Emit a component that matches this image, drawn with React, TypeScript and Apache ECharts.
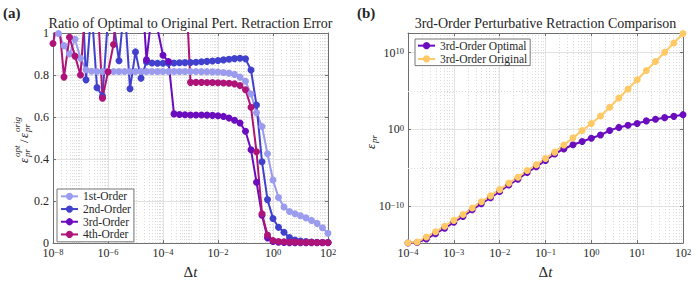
import React, { useEffect, useRef } from "react";
import * as echarts from "echarts";

const SERIF = "Times New Roman";
const TXT = "#262626";
const AXC = "#6e6e6e";
const GRIDC = "#e2e2e2";
const MINORC = "#d9d9d9";

const C1 = "#9c9cef";
const C2 = "#4141cd";
const C3 = "#6b0cbe";
const C4 = "#ae1378";
const CORIG = "#ffc966";

// ---------- panel (a): exponent of Δt and error ratios ----------
const dtExpA = [
  -8.0, -7.8, -7.6, -7.4, -7.2, -7.0, -6.8, -6.6, -6.4, -6.2,
  -6.0, -5.8, -5.6, -5.4, -5.2, -5.0, -4.8, -4.6, -4.4, -4.2,
  -4.0, -3.8, -3.6, -3.4, -3.2, -3.0, -2.8, -2.6, -2.4, -2.2,
  -2.0, -1.8, -1.6, -1.4, -1.2, -1.0, -0.8, -0.6, -0.4, -0.2,
  0.0, 0.2, 0.4, 0.6, 0.8, 1.0, 1.2, 1.4, 1.6, 1.8, 2.0,
];
const ratio1st = [
  1.08, 0.998, 0.94, 0.9, 0.97, 0.88, 0.825, 0.818, 0.817, 0.817,
  0.817, 0.817, 0.817, 0.817, 0.817, 0.817, 0.817, 0.817, 0.817, 0.817,
  0.817, 0.817, 0.817, 0.817, 0.817, 0.817, 0.817, 0.816, 0.816, 0.815,
  0.814, 0.812, 0.809, 0.803, 0.79, 0.77, 0.71, 0.62, 0.555, 0.425,
  0.3, 0.217, 0.172, 0.15, 0.14, 0.13, 0.12, 0.108, 0.094, 0.073, 0.047,
];
const ratio2nd = [
  1.3, 1.35, 1.3, 1.25, 1.3, 1.4, 0.777, 1.12, 0.74, 0.7,
  1.07, 1.05, 0.868, 1.14, 0.735, 0.91, 0.785, 0.862, 0.857, 0.856,
  0.856, 0.856, 0.857, 0.858, 0.859, 0.86, 0.861, 0.863, 0.865, 0.867,
  0.869, 0.872, 0.875, 0.878, 0.88, 0.877, 0.824, 0.657, 0.387, 0.207,
  0.117, 0.075, 0.052, 0.026, 0.015, 0.01, 0.007, 0.005, 0.004, 0.003, 0.003,
];
const ratio3rd = [
  1.35, 1.4, 1.3, 1.45, 1.3, 1.35, 1.4, 1.3, 1.35, 1.4,
  1.3, 1.35, 1.3, 1.4, 1.3, 1.35, 1.28, 0.872, 1.1, 1.02,
  0.894, 0.864, 0.615, 0.612, 0.611, 0.61, 0.61, 0.61, 0.609, 0.608,
  0.606, 0.603, 0.595, 0.585, 0.572, 0.532, 0.444, 0.29, 0.133, 0.025,
  0.008, 0.004, 0.003, 0.002, 0.002, 0.002, 0.002, 0.002, 0.002, 0.002, 0.002,
];
const ratio4th = [
  0.95, 1.08, 0.79, 0.98, 0.89, 0.8, 1.17, 1.3, 1.2, 0.69,
  0.815, 0.945, 1.3, 1.35, 1.3, 1.4, 1.3, 1.35, 1.3, 1.4,
  1.3, 1.35, 1.3, 1.4, 1.3, 0.765, 0.765, 0.765, 0.764, 0.764,
  0.763, 0.762, 0.761, 0.758, 0.75, 0.73, 0.647, 0.435, 0.14, 0.038,
  0.012, 0.008, 0.006, 0.005, 0.005, 0.004, 0.004, 0.004, 0.003, 0.003, 0.003,
];

// ---------- panel (b): exponent of Δt and exponent of ε_pr ----------
const dtExpB = [
  -4.0, -3.8, -3.6, -3.4, -3.2, -3.0, -2.8, -2.6, -2.4, -2.2,
  -2.0, -1.8, -1.6, -1.4, -1.2, -1.0, -0.8, -0.6, -0.4, -0.2,
  0.0, 0.2, 0.4, 0.6, 0.8, 1.0, 1.2, 1.4, 1.6, 1.8, 2.0,
];
const errExpOptimal = [
  -14.78, -14.72, -14.27, -13.58, -12.85, -12.09, -11.32, -10.47, -9.66, -8.9,
  -8.09, -7.24, -6.47, -5.61, -4.85, -4.04, -3.2, -2.55, -2.0, -1.57,
  -1.15, -0.73, -0.15, 0.26, 0.55, 0.77, 1.11, 1.32, 1.53, 1.7, 1.92,
];
const errExpOriginal = [
  -14.76, -14.65, -14.01, -13.33, -12.6, -11.84, -11.07, -10.22, -9.41, -8.65,
  -7.84, -6.99, -6.22, -5.36, -4.6, -3.79, -2.96, -2.02, -1.1, -0.15,
  0.77, 1.75, 2.89, 4.09, 5.27, 6.46, 7.66, 8.85, 10.04, 11.24, 12.48,
];

// tick labels (exponents of 10)
const tickExpAX = [-8, -6, -4, -2, 0, 2];
const tickExpBX = [-4, -3, -2, -1, 0, 1, 2];
const tickExpBY = [-10, 0, 10];

const legendA = ["1st-Order", "2nd-Order", "3rd-Order", "4th-Order"];
const legendB = ["3rd-Order Optimal", "3rd-Order Original"];

// minor log grid positions
const minorDecades = (from: number, to: number, withOdd: boolean) => {
  const out: number[] = [];
  for (let n = from; n < to; n++) {
    if (withOdd && (n - from) % 2 === 1) out.push(n);
    for (let k = 2; k <= 9; k++) out.push(n + Math.log10(k));
  }
  return out;
};
const minorXA = minorDecades(-8, 2, true);
const minorXB = minorDecades(-4, 2, false);
const minorYB = [-5, 5];

const expFmt = (ticks: number[]) => (v: number) => {
  const r = Math.round(v * 1000) / 1000;
  if (!ticks.includes(r)) return "";
  const s = r < 0 ? "\u2212" + Math.abs(r) : String(r);
  return `{b|10}{e|${s}}`;
};
const expRich = {
  b: { fontFamily: SERIF, fontSize: 12, color: TXT, lineHeight: 12, verticalAlign: "bottom" },
  e: { fontFamily: SERIF, fontSize: 8.5, color: TXT, lineHeight: 6, verticalAlign: "top" },
};

function axisBase(grid: number, min: number, max: number, step: number | null, pos: string) {
  const a: any = {
    type: "value",
    gridIndex: grid,
    min,
    max,
    position: pos,
    axisLine: { show: true, onZero: false, lineStyle: { color: AXC, width: 1 } },
    axisTick: { show: true, inside: true, length: 3, lineStyle: { color: AXC, width: 1 } },
    splitLine: { show: false },
    axisLabel: { show: false },
  };
  if (step != null) a.interval = step;
  else a.splitNumber = 3;
  return a;
}

const nameDt = {
  name: "{d|\u0394}{t|t}",
  nameLocation: "middle",
  nameGap: 17,
  nameTextStyle: {
    rich: {
      d: { fontFamily: SERIF, fontSize: 15, color: TXT },
      t: { fontFamily: SERIF, fontSize: 15, fontStyle: "italic", color: TXT },
    },
  },
};

function lineSeries(name: string, color: string, xs: number[], ys: number[], axis: number) {
  return {
    name, type: "line", xAxisIndex: axis, yAxisIndex: axis,
    data: xs.map((x, i) => [x, ys[i]]),
    symbol: "circle", symbolSize: 7, showSymbol: true, color,
    lineStyle: { color, width: 2 }, itemStyle: { color },
    clip: true, z: 3, silent: true, emphasis: { disabled: true },
  };
}

function vMinor(axis: number, xs: number[], y0: number, y1: number) {
  return {
    type: "custom", xAxisIndex: axis, yAxisIndex: axis, silent: true, z: 1,
    data: xs.map((v) => [v, y0]),
    renderItem: (_p: any, api: any) => {
      const x = api.value(0);
      const a = api.coord([x, y0]);
      const b = api.coord([x, y1]);
      const px = Math.round(a[0]) + 0.5;
      return { type: "line", shape: { x1: px, y1: a[1], x2: px, y2: b[1] },
        style: { stroke: MINORC, lineWidth: 1, lineDash: [1, 2] } };
    },
  };
}

function hMinor(axis: number, ys: number[], x0: number, x1: number) {
  return {
    type: "custom", xAxisIndex: axis, yAxisIndex: axis, silent: true, z: 1,
    data: ys.map((v) => [x0, v]),
    renderItem: (_p: any, api: any) => {
      const y = api.value(1);
      const a = api.coord([x0, y]);
      const b = api.coord([x1, y]);
      const py = Math.round(a[1]) + 0.5;
      return { type: "line", shape: { x1: a[0], y1: py, x2: b[0], y2: py },
        style: { stroke: MINORC, lineWidth: 1, lineDash: [1, 2] } };
    },
  };
}

const txt = (text: string, x: number, y: number, size: number, opts: any = {}) => ({
  type: "text", x, y, silent: true, z: 100,
  style: {
    text, fontSize: size, fontFamily: SERIF,
    fontStyle: opts.italic ? "italic" : "normal",
    fontWeight: opts.bold ? "bold" : "normal",
    fill: TXT, textAlign: opts.align || "left", textVerticalAlign: "middle",
  },
});

const YMIN_B = -14.8;
const YMAX_B = 12.55;

const legendCommon = {
  orient: "vertical", itemWidth: 17, itemHeight: 9, itemGap: 0,
  backgroundColor: "#ffffff", borderColor: "#777777", borderWidth: 1, borderRadius: 0,
  selectedMode: false, textStyle: { fontFamily: SERIF, fontSize: 11.5, color: TXT },
};

const option: any = {
  animation: false,
  backgroundColor: "#ffffff",
  textStyle: { fontFamily: SERIF },
  grid: [
    { left: 53, top: 33, width: 275, height: 214, containLabel: false },
    { left: 408, top: 33, width: 275, height: 214, containLabel: false },
  ],
  xAxis: [
    { ...axisBase(0, -8, 2, 2, "bottom"),
      splitLine: { show: true, lineStyle: { color: GRIDC, width: 1 } },
      axisLabel: { show: true, margin: 4, formatter: expFmt(tickExpAX), rich: expRich }, ...nameDt },
    { ...axisBase(1, -4, 2, 1, "bottom"),
      splitLine: { show: true, lineStyle: { color: GRIDC, width: 1 } },
      axisLabel: { show: true, margin: 4, formatter: expFmt(tickExpBX), rich: expRich }, ...nameDt },
    axisBase(0, -8, 2, 2, "top"),
    axisBase(1, -4, 2, 1, "top"),
  ],
  yAxis: [
    { ...axisBase(0, 0, 1, 0.2, "left"),
      splitLine: { show: true, lineStyle: { color: GRIDC, width: 1 } },
      axisLabel: { show: true, margin: 4, fontFamily: SERIF, fontSize: 12, lineHeight: 8, color: TXT } },
    { ...axisBase(1, YMIN_B, YMAX_B, null, "left"),
      splitLine: { show: true, lineStyle: { color: GRIDC, width: 1 } },
      axisLabel: { show: true, margin: 4, formatter: expFmt(tickExpBY), rich: expRich } },
    axisBase(0, 0, 1, 0.2, "right"),
    axisBase(1, YMIN_B, YMAX_B, null, "right"),
  ],
  legend: [
    { ...legendCommon, data: legendA, left: 57, top: 189, padding: [1, 3, 1, 3],
      textStyle: { ...legendCommon.textStyle, lineHeight: 12.7 } },
    { ...legendCommon, data: legendB, left: 415, top: 39, padding: [0, 3, 0, 2],
      textStyle: { ...legendCommon.textStyle, lineHeight: 13.3 } },
  ],
  series: [
    vMinor(0, minorXA, 0, 1),
    vMinor(1, minorXB, YMIN_B, YMAX_B),
    hMinor(1, minorYB, -4, 2),
    lineSeries(legendA[0], C1, dtExpA, ratio1st, 0),
    lineSeries(legendA[1], C2, dtExpA, ratio2nd, 0),
    lineSeries(legendA[2], C3, dtExpA, ratio3rd, 0),
    lineSeries(legendA[3], C4, dtExpA, ratio4th, 0),
    lineSeries(legendB[0], C3, dtExpB, errExpOptimal, 1),
    lineSeries(legendB[1], CORIG, dtExpB, errExpOriginal, 1),
  ],
  graphic: [
    txt("(a)", 3, 13, 15, { bold: true }),
    txt("(b)", 357, 13, 15, { bold: true }),
    txt("Ratio of Optimal to Original Pert. Retraction Error", 190.5, 23, 14, { align: "center" }),
    txt("3rd-Order Perturbative Retraction Comparison", 545.5, 23, 14, { align: "center" }),
    {
      type: "group", x: 23, y: 140, rotation: Math.PI / 2, silent: true,
      children: [
        txt("\u03b5", -23, 0, 13, { italic: true }),
        txt("opt", -17, -6, 9, { italic: true }),
        txt("pr", -17, 4, 9, { italic: true }),
        txt("/", -3, 0, 13),
        txt("\u03b5", 2, 0, 13, { italic: true }),
        txt("orig", 8, -6, 9, { italic: true }),
        txt("pr", 8, 4, 9, { italic: true }),
      ],
    },
    {
      type: "group", x: 370, y: 141, rotation: Math.PI / 2, silent: true,
      children: [
        txt("\u03b5", -8, 0, 13, { italic: true }),
        txt("pr", -2, 4, 9, { italic: true }),
      ],
    },
  ],
};

export default function App() {
  const ref = useRef<HTMLDivElement>(null);
  useEffect(() => {
    if (!ref.current) return;
    const chart = echarts.init(ref.current, undefined, { renderer: "svg" });
    chart.setOption(option);
    return () => chart.dispose();
  }, []);
  return (
    <div ref={ref} style={{ position: "fixed", left: 0, top: 0, width: 698, height: 284, background: "#fff" }} />
  );
}
